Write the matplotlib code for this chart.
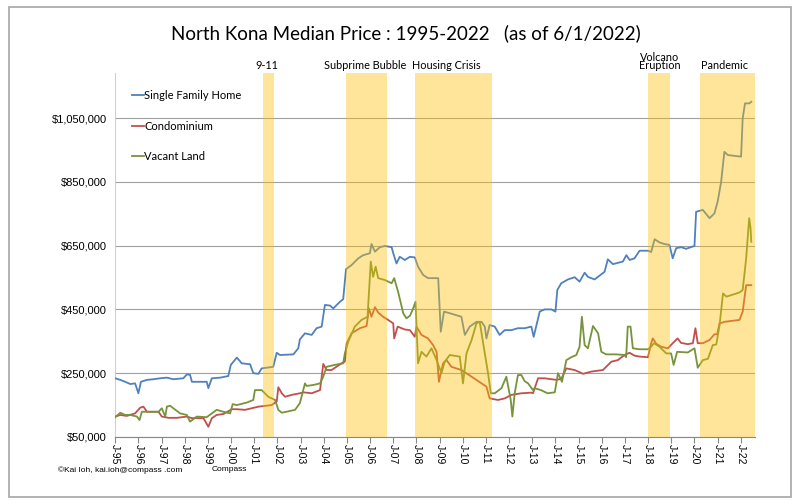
import matplotlib
matplotlib.use("Agg")
import matplotlib.pyplot as plt
from matplotlib.patches import Rectangle
import matplotlib.transforms as mtransforms

# decimal year, median price
sfh_t = [1995.00, 1995.22, 1995.43, 1995.65, 1995.86, 1996.00, 1996.11, 1996.37, 1996.65, 1996.94,
         1997.23, 1997.51, 1997.94, 1998.09, 1998.23, 1998.31, 1998.95, 1999.02, 1999.17, 1999.53,
         1999.88, 1999.99, 2000.25, 2000.46, 2000.82, 2000.96, 2001.18, 2001.32, 2001.82, 2001.97,
         2002.11, 2002.69, 2002.90, 2002.97, 2003.19, 2003.48, 2003.69, 2003.91, 2004.05, 2004.27,
         2004.41, 2004.70, 2004.84, 2004.96, 2005.20, 2005.49, 2005.70, 2005.99, 2006.06, 2006.21,
         2006.42, 2006.64, 2006.93, 2007.00, 2007.14, 2007.28, 2007.50, 2007.72, 2007.93, 2008.07,
         2008.29, 2008.50, 2008.94, 2009.05, 2009.19, 2009.44, 2009.94, 2010.09, 2010.30, 2010.59,
         2010.81, 2010.95, 2011.02, 2011.16, 2011.38, 2011.59, 2011.81, 2012.10, 2012.38, 2012.67,
         2012.96, 2013.06, 2013.32, 2013.53, 2013.82, 2014.00, 2014.08, 2014.25, 2014.54, 2014.83,
         2015.04, 2015.26, 2015.40, 2015.69, 2016.12, 2016.26, 2016.48, 2016.91, 2017.06, 2017.20,
         2017.41, 2017.63, 2017.99, 2018.13, 2018.28, 2018.49, 2018.71, 2018.92, 2019.06, 2019.21,
         2019.43, 2019.64, 2020.00, 2020.07, 2020.36, 2020.65, 2020.86, 2021.00, 2021.15, 2021.29,
         2021.44, 2022.01, 2022.08, 2022.18, 2022.37, 2022.45]
sfh_v = [234, 229, 223, 216, 218, 187, 223, 229, 231, 234,
         236, 231, 234, 246, 245, 223, 223, 203, 234, 236,
         241, 276, 299, 281, 278, 250, 248, 265, 270, 314,
         307, 309, 328, 356, 375, 370, 391, 396, 464, 462,
         453, 474, 482, 576, 589, 610, 620, 626, 655, 631,
         645, 649, 645, 626, 594, 615, 605, 615, 613, 584,
         558, 548, 548, 380, 443, 438, 427, 370, 396, 411,
         411, 396, 359, 401, 396, 370, 385, 385, 391, 391,
         396, 364, 443, 450, 450, 443, 511, 532, 544, 551,
         537, 565, 552, 544, 568, 607, 592, 600, 620, 605,
         610, 634, 634, 630, 670, 660, 655, 652, 610, 642,
         645, 640, 649, 756, 762, 736, 751, 788, 850, 944,
         934, 929, 1049, 1096, 1096, 1101]

condo_t = [1995.00, 1995.22, 1995.50, 1995.86, 1996.08, 1996.22, 1996.37, 1996.87, 1997.01, 1997.30,
           1997.66, 1998.09, 1998.31, 1998.81, 1999.02, 1999.17, 1999.38, 1999.67, 2000.03, 2000.25,
           2000.60, 2000.89, 2001.18, 2001.75, 2001.97, 2002.04, 2002.19, 2002.33, 2002.62, 2002.97,
           2003.12, 2003.48, 2003.84, 2003.98, 2004.12, 2004.34, 2004.77, 2004.91, 2004.99, 2005.20,
           2005.56, 2005.85, 2005.95, 2006.06, 2006.21, 2006.35, 2006.56, 2006.78, 2007.00, 2007.04,
           2007.19, 2007.50, 2007.72, 2007.93, 2008.00, 2008.22, 2008.50, 2008.72, 2008.87, 2008.97,
           2009.15, 2009.30, 2009.51, 2009.94, 2010.38, 2010.81, 2011.02, 2011.16, 2011.52, 2011.81,
           2012.10, 2012.53, 2012.96, 2013.03, 2013.25, 2013.53, 2014.04, 2014.25, 2014.47, 2014.83,
           2015.19, 2015.55, 2016.05, 2016.41, 2016.69, 2016.98, 2017.20, 2017.41, 2017.63, 2017.99,
           2018.13, 2018.20, 2018.35, 2018.56, 2018.85, 2019.06, 2019.27, 2019.42, 2019.71, 2019.93,
           2020.04, 2020.14, 2020.36, 2020.65, 2020.86, 2020.98, 2021.08, 2021.29, 2021.94, 2022.08,
           2022.23, 2022.45]
condo_v = [114, 119, 116, 124, 142, 145, 129, 129, 114, 110,
           110, 114, 109, 109, 82, 109, 119, 122, 137, 137,
           135, 140, 145, 150, 161, 206, 187, 176, 182, 187,
           190, 187, 197, 279, 260, 260, 281, 286, 344, 375,
           391, 398, 453, 427, 457, 440, 427, 417, 406, 359,
           396, 387, 385, 364, 396, 370, 359, 338, 317, 223,
           281, 291, 270, 260, 239, 218, 208, 171, 166, 171,
           182, 187, 189, 187, 234, 234, 229, 232, 265, 260,
           248, 255, 260, 286, 291, 307, 314, 305, 302, 300,
           344, 359, 342, 333, 328, 344, 359, 345, 341, 344,
           391, 344, 344, 354, 372, 372, 406, 411, 417, 443,
           526, 526]

land_t = [1995.00, 1995.22, 1995.43, 1995.65, 1995.94, 1996.05, 1996.15, 1996.37, 1996.87, 1997.01,
          1997.16, 1997.23, 1997.37, 1997.51, 1997.80, 1998.09, 1998.23, 1998.52, 1998.95, 1999.17,
          1999.38, 1999.67, 1999.96, 2000.07, 2000.25, 2000.68, 2000.96, 2001.03, 2001.32, 2001.61,
          2001.90, 2002.04, 2002.19, 2002.76, 2002.97, 2003.19, 2003.26, 2003.55, 2003.84, 2003.98,
          2004.12, 2004.48, 2004.84, 2004.91, 2005.06, 2005.34, 2005.63, 2005.89, 2006.03, 2006.13,
          2006.24, 2006.35, 2006.64, 2006.93, 2007.04, 2007.21, 2007.43, 2007.57, 2007.72, 2007.86,
          2007.96, 2008.07, 2008.22, 2008.43, 2008.65, 2008.87, 2009.08, 2009.22, 2009.44, 2009.87,
          2010.01, 2010.16, 2010.38, 2010.59, 2010.73, 2010.95, 2011.09, 2011.21, 2011.38, 2011.67,
          2011.88, 2012.07, 2012.14, 2012.24, 2012.38, 2012.53, 2012.67, 2012.82, 2013.03, 2013.10,
          2013.37, 2013.66, 2013.97, 2014.11, 2014.28, 2014.47, 2014.68, 2014.90, 2015.04, 2015.14,
          2015.26, 2015.40, 2015.62, 2015.84, 2015.98, 2016.19, 2016.63, 2016.98, 2017.05, 2017.12,
          2017.24, 2017.34, 2017.63, 2017.99, 2018.13, 2018.25, 2018.49, 2018.78, 2018.99, 2019.10,
          2019.25, 2019.71, 2020.00, 2020.14, 2020.36, 2020.58, 2020.79, 2020.94, 2021.08, 2021.23,
          2021.38, 2021.59, 2021.94, 2022.08, 2022.23, 2022.36, 2022.42, 2022.45]
land_v = [112, 126, 119, 119, 114, 103, 129, 129, 129, 140,
          114, 145, 148, 140, 124, 119, 98, 114, 112, 124,
          135, 129, 124, 153, 150, 158, 166, 197, 197, 176,
          166, 135, 126, 135, 156, 218, 210, 213, 218, 239,
          270, 276, 281, 312, 349, 396, 417, 427, 600, 552,
          584, 548, 542, 532, 548, 505, 438, 422, 430, 453,
          474, 281, 317, 302, 328, 291, 250, 286, 307, 302,
          218, 312, 354, 406, 411, 312, 250, 187, 187, 203,
          239, 166, 114, 187, 244, 244, 225, 218, 197, 203,
          197, 187, 190, 250, 223, 291, 300, 307, 333, 427,
          338, 328, 398, 375, 317, 309, 309, 307, 300, 396,
          396, 328, 325, 325, 333, 344, 333, 312, 312, 276,
          317, 315, 328, 267, 291, 295, 338, 340, 399, 500,
          490, 495, 503, 511, 610, 736, 704, 662]

events = ["9-11", "Subprime Bubble", "Housing Crisis", "Volcano\nEruption", "Pandemic"]
event_start = [2001.37, 2004.96, 2007.95, 2018.00, 2020.22]
event_end = [2001.87, 2006.74, 2011.26, 2018.95, 2022.60]
event_label_x = [2001.55, 2005.78, 2009.3, 2018.5, 2021.3]

years = list(range(1995, 2023))
yticks = [50000, 250000, 450000, 650000, 850000, 1050000]

fig = plt.figure(figsize=(8, 5.04), dpi=100)
fig.patches.append(Rectangle((0.011, 0.014), 0.978, 0.972, transform=fig.transFigure,
                             fill=False, edgecolor="#a6a6a6", linewidth=1.2))
ax = fig.add_axes([0.144, 0.133, 0.8, 0.722])

ax.plot(sfh_t, [v * 1000 for v in sfh_v], color="#4F81BD", lw=1.3, label="Single Family Home", zorder=3)
ax.plot(condo_t, [v * 1000 for v in condo_v], color="#C0504D", lw=1.3, label="Condominium", zorder=3)
ax.plot(land_t, [v * 1000 for v in land_v], color="#77933C", lw=1.3, label="Vacant Land", zorder=3)

trans = mtransforms.blended_transform_factory(ax.transData, ax.transAxes)
for name, s, e, lx in zip(events, event_start, event_end, event_label_x):
    ax.axvspan(s, e, color="#FFC000", alpha=0.4, lw=0, zorder=4)
    ax.text(lx, 1.005, name, transform=trans, ha="center", va="bottom",
            fontsize=7.8, family="Lato", linespacing=0.75)

ax.set_xlim(1995, 2022.62)
ax.set_ylim(50000, 1191000)
ax.set_yticks(yticks)
ax.set_yticklabels(["${:,}".format(v) for v in yticks], fontsize=8, family="Liberation Sans")
ax.set_xticks(years)
ax.set_xticklabels(["J-%02d" % (y % 100) for y in years], rotation=-90, fontsize=7.5,
                   family="Liberation Sans")
ax.tick_params(axis="y", length=0, pad=6)
ax.tick_params(axis="x", length=4, color="#888888", direction="out", pad=1)
ax.grid(axis="y", color="#a0a0a0", lw=0.8, zorder=1)
for sp in ["top", "right"]:
    ax.spines[sp].set_visible(False)
ax.spines["left"].set_color("#d0d0d0")
ax.spines["bottom"].set_color("#888888")

leg = ax.legend(loc="upper left", bbox_to_anchor=(0.01, 0.98), frameon=False, handlelength=1.1,
                handletextpad=0.05, labelspacing=1.75, prop={"family": "Lato", "size": 8})

fig.text(0.507, 0.935, "North Kona Median Price : 1995-2022   (as of 6/1/2022)",
         ha="center", va="center", fontsize=13.5, family="Lato")
fig.text(0.072, 0.068, "\u00a9Kai Ioh, kai.ioh@compass .com", fontsize=6, va="center",
         family="Liberation Sans")
fig.text(0.265, 0.068, "Compass", fontsize=6, va="center", family="Liberation Sans")

plt.savefig("out.png", dpi=100)
